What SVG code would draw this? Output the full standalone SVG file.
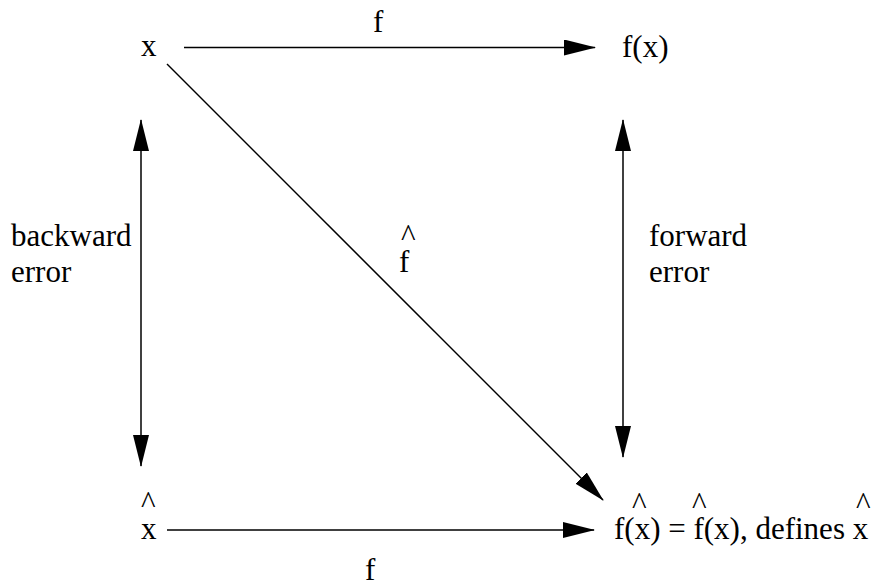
<svg xmlns="http://www.w3.org/2000/svg" width="871" height="585" viewBox="0 0 871 585">
<defs>
<marker id="ah" markerUnits="userSpaceOnUse" markerWidth="32" markerHeight="16" refX="31" refY="8" orient="auto-start-reverse" viewBox="0 0 32 16">
<path d="M0,0 L32,8 L0,16 Z" fill="#000"/>
</marker>
<style>
text { font-family: 'Liberation Serif', 'Times New Roman', serif; font-size: 31px; fill: #000; }
.c { stroke: #000; stroke-width: 1.5; fill: none; }
</style>
</defs>
<rect width="871" height="585" fill="#fff"/>
<g id="n-x">
<text x="141" y="56">x</text>
</g>
<g id="n-fx">
<text x="622" y="57">f(x)</text>
</g>
<g id="n-xhat">
<text x="141" y="513">^</text>
<text x="141" y="539">x</text>
</g>
<g id="n-result">
<text x="632" y="514">^</text>
<text x="692" y="514">^</text>
<text x="856" y="514">^</text>
<text x="614" y="539">f(x) = f(x), defines x</text>
</g>
<g id="labels">
<text x="373" y="32">f</text>
<text x="365" y="580">f</text>
<text x="401" y="246">^</text>
<text x="399" y="272">f</text>
<text x="11" y="246">backward</text>
<text x="11" y="282">error</text>
<text x="649" y="246">forward</text>
<text x="649" y="282">error</text>
</g>
<g id="connectors">
<line class="c" x1="184" y1="47.5" x2="595" y2="47.5" marker-end="url(#ah)"/>
<line class="c" x1="167" y1="530" x2="594" y2="530" marker-end="url(#ah)"/>
<line class="c" x1="167" y1="64" x2="603" y2="500" marker-end="url(#ah)"/>
<line class="c" x1="141" y1="120" x2="141" y2="466" marker-start="url(#ah)" marker-end="url(#ah)"/>
<line class="c" x1="623" y1="120" x2="623" y2="457" marker-start="url(#ah)" marker-end="url(#ah)"/>
</g>
</svg>
